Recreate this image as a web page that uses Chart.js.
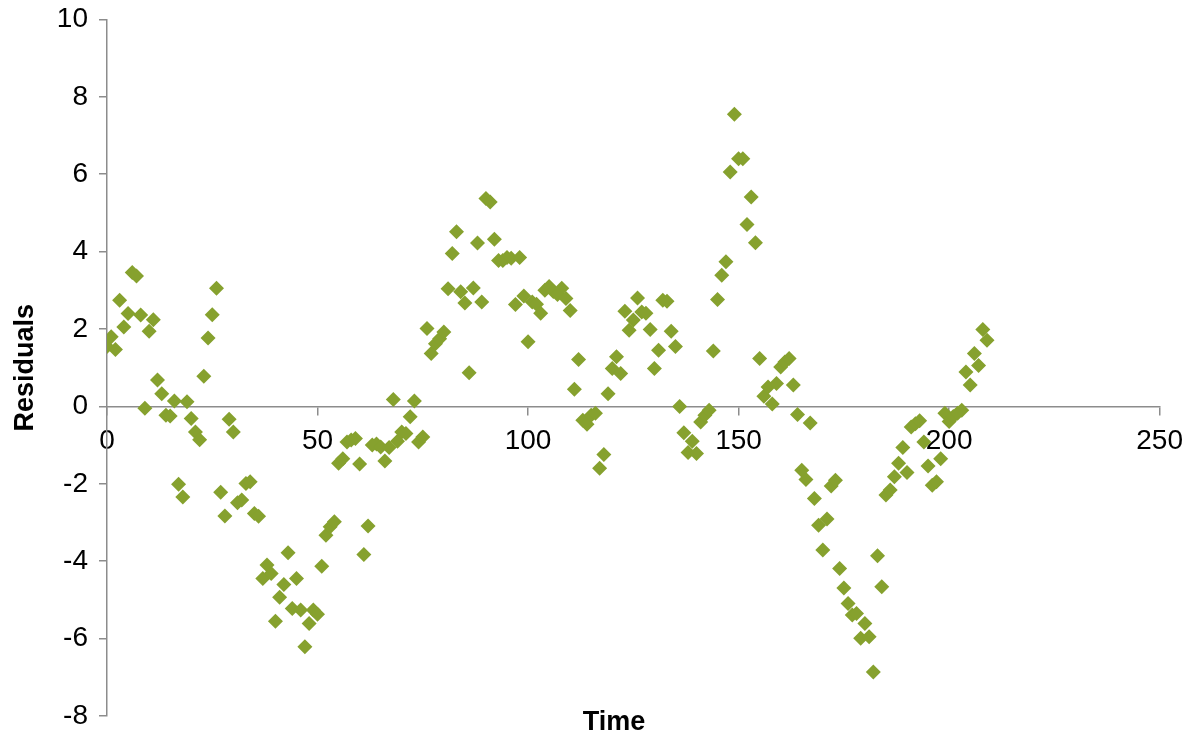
<!DOCTYPE html>
<html>
<head>
<meta charset="utf-8">
<title>Residuals over time</title>
<script src="https://cdn.jsdelivr.net/npm/chart.js@4.4.1/dist/chart.umd.min.js"></script>
<style>
  html, body { margin: 0; padding: 0; background: #fff; }
  #wrap { width: 1193px; height: 744px; position: relative; }
</style>
</head>
<body>
<div id="wrap"><canvas id="myChart"></canvas></div>
<script>
// time index of each observation
const times = [
  0, 1, 2, 3, 4, 5, 6, 7, 8, 9, 10, 11, 12, 13, 14, 15, 16, 17, 18, 19,
  20, 21, 22, 23, 24, 25, 26, 27, 28, 29, 30, 31, 32, 33, 34, 35, 36, 37, 38, 39,
  40, 41, 42, 43, 44, 45, 46, 47, 48, 49, 50, 51, 52, 53, 54, 55, 56, 57, 58, 59,
  60, 61, 62, 63, 64, 65, 66, 67, 68, 69, 70, 71, 72, 73, 74, 75, 76, 77, 78, 79,
  80, 81, 82, 83, 84, 85, 86, 87, 88, 89, 90, 91, 92, 93, 94, 95, 96, 97, 98, 99,
  100, 101, 102, 103, 104, 105, 106, 107, 108, 109, 110, 111, 112, 113, 114, 115, 116, 117, 118, 119,
  120, 121, 122, 123, 124, 125, 126, 127, 128, 129, 130, 131, 132, 133, 134, 135, 136, 137, 138, 139,
  140, 141, 142, 143, 144, 145, 146, 147, 148, 149, 150, 151, 152, 153, 154, 155, 156, 157, 158, 159,
  160, 161, 162, 163, 164, 165, 166, 167, 168, 169, 170, 171, 172, 173, 174, 175, 176, 177, 178, 179,
  180, 181, 182, 183, 184, 185, 186, 187, 188, 189, 190, 191, 192, 193, 194, 195, 196, 197, 198, 199,
  200, 201, 202, 203, 204, 205, 206, 207, 208, 209
];

// residual at each time
const residuals = [
  1.55, 1.80, 1.47, 2.74, 2.05, 2.40, 3.46, 3.37, 2.36, -0.05,
  1.94, 2.24, 0.68, 0.33, -0.23, -0.25, 0.14, -2.01, -2.34, 0.12,
  -0.31, -0.66, -0.86, 0.78, 1.77, 2.37, 3.05, -2.22, -2.83, -0.33,
  -0.66, -2.49, -2.42, -1.99, -1.95, -2.77, -2.84, -4.45, -4.10, -4.32,
  -5.55, -4.93, -4.60, -3.78, -5.22, -4.45, -5.26, -6.21, -5.61, -5.26,
  -5.37, -4.13, -3.33, -3.11, -2.98, -1.47, -1.35, -0.92, -0.87, -0.83,
  -1.49, -3.83, -3.09, -1.00, -0.97, -1.05, -1.41, -1.06, 0.18, -0.90,
  -0.66, -0.70, -0.27, 0.14, -0.92, -0.79, 2.01, 1.37, 1.62, 1.75,
  1.92, 3.04, 3.95, 4.51, 2.96, 2.67, 0.87, 3.06, 4.22, 2.70,
  5.37, 5.28, 4.32, 3.77, 3.77, 3.85, 3.83, 2.63, 3.85, 2.85,
  1.67, 2.70, 2.64, 2.41, 3.00, 3.10, 2.97, 2.89, 3.05, 2.79,
  2.48, 0.44, 1.21, -0.36, -0.46, -0.23, -0.18, -1.60, -1.24, 0.33,
  0.98, 1.28, 0.85, 2.46, 1.97, 2.23, 2.80, 2.44, 2.41, 1.99,
  0.98, 1.45, 2.74, 2.72, 1.94, 1.55, 0.00, -0.68, -1.19, -0.90,
  -1.22, -0.40, -0.23, -0.10, 1.43, 2.76, 3.39, 3.74, 6.06, 7.55,
  6.40, 6.40, 4.70, 5.41, 4.23, 1.24, 0.26, 0.50, 0.06, 0.59,
  1.02, 1.15, 1.24, 0.55, -0.21, -1.65, -1.89, -0.43, -2.38, -3.07,
  -3.71, -2.91, -2.06, -1.91, -4.19, -4.69, -5.09, -5.39, -5.35, -5.99,
  -5.61, -5.95, -6.86, -3.86, -4.66, -2.29, -2.16, -1.82, -1.47, -1.06,
  -1.71, -0.53, -0.45, -0.37, -0.92, -1.54, -2.04, -1.95, -1.35, -0.18,
  -0.39, -0.26, -0.18, -0.10, 0.89, 0.55, 1.37, 1.06, 1.99, 1.71
];

const xTitle = "Time";
const yTitle = "Residuals";

const fontFamily = "'Liberation Sans', Arial, Helvetica, sans-serif";
const axisGrey = "#8c8c8c";
const markerColor = "#86a12e";

const points = times.map((t, i) => ({ x: t, y: residuals[i] }));

// the x axis sits on y = 0, so its title goes at the foot of the canvas
const bottomTitle = {
  id: "bottomTitle",
  afterDraw(chart) {
    const ctx = chart.ctx;
    ctx.save();
    ctx.font = "bold 27px " + fontFamily;
    ctx.fillStyle = "#000";
    ctx.textAlign = "center";
    ctx.textBaseline = "middle";
    ctx.fillText(xTitle, 614, 723);
    ctx.restore();
  }
};

const ctx = document.getElementById("myChart").getContext("2d");
const myChart = new Chart(ctx, {
  type: "scatter",
  data: {
    datasets: [
      {
        label: yTitle,
        data: points,
        pointStyle: "rectRot",
        pointRadius: 7.5,
        pointHoverRadius: 7.5,
        backgroundColor: markerColor,
        borderColor: markerColor,
        borderWidth: 0
      }
    ]
  },
  options: {
    responsive: true,
    maintainAspectRatio: false,
    animation: false,
    layout: { padding: { left: 0, right: 33, top: 19, bottom: 28 } },
    plugins: {
      legend: { display: false },
      tooltip: { enabled: false }
    },
    scales: {
      x: {
        type: "linear",
        position: { y: 0 },
        min: 0,
        max: 250,
        ticks: {
          stepSize: 50,
          color: "#000",
          padding: 10,
          maxRotation: 0,
          font: { family: fontFamily, size: 28 }
        },
        grid: {
          drawOnChartArea: false,
          drawTicks: true,
          tickLength: 8,
          color: axisGrey,
          lineWidth: 1.5
        },
        border: { color: axisGrey, width: 1.5 }
      },
      y: {
        type: "linear",
        position: "left",
        min: -8,
        max: 10,
        afterFit(scale) {
          scale.width = 107;
        },
        ticks: {
          stepSize: 2,
          color: "#000",
          padding: 11,
          font: { family: fontFamily, size: 28, lineHeight: 0.6 }
        },
        grid: {
          drawOnChartArea: false,
          drawTicks: true,
          tickLength: 8,
          color: axisGrey,
          lineWidth: 1.5
        },
        border: { color: axisGrey, width: 1.5 },
        title: {
          display: true,
          text: yTitle,
          color: "#000",
          padding: { top: 9, bottom: 0 },
          font: { family: fontFamily, size: 27, weight: "bold" }
        }
      }
    }
  },
  plugins: [bottomTitle]
});
</script>
</body>
</html>
